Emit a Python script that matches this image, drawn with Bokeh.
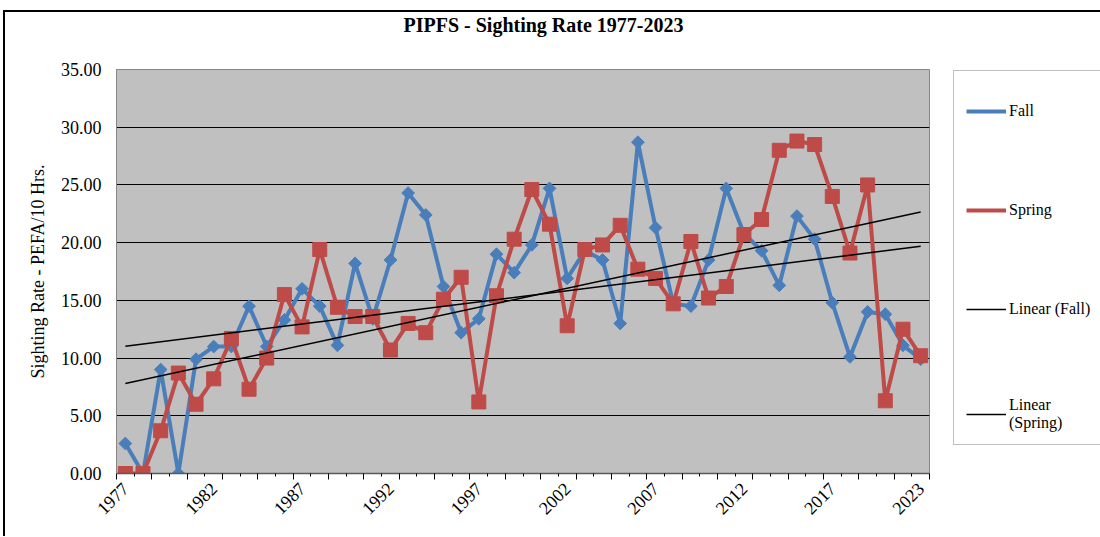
import numpy as np
from math import pi
from bokeh.plotting import figure
from bokeh.models import (Range1d, LinearAxis, FixedTicker, NumeralTickFormatter,
                          Legend, LegendItem, Title)
from bokeh.embed import file_html
from bokeh.resources import INLINE

# ---------------- data ----------------
years = [1977, 1978, 1979, 1980, 1981, 1982, 1983, 1984, 1985, 1986,
         1987, 1988, 1989, 1990, 1991, 1992, 1993, 1994, 1995, 1996,
         1997, 1998, 1999, 2000, 2001, 2002, 2003, 2004, 2005, 2006,
         2007, 2008, 2009, 2010, 2011, 2012, 2013, 2014, 2015, 2016,
         2017, 2018, 2019, 2021, 2022, 2023]

fall = [2.6, 0.0, 9.0, 0.0, 9.9, 11.0, 11.0, 14.5, 11.0, 13.3,
        16.0, 14.5, 11.1, 18.2, 13.4, 18.5, 24.3, 22.4, 16.2, 12.2,
        13.4, 19.0, 17.4, 19.8, 24.7, 16.9, 19.3, 18.5, 13.0, 28.7,
        21.3, 14.7, 14.5, 18.5, 24.7, 20.8, 19.3, 16.3, 22.3, 20.3,
        14.8, 10.1, 14.0, 13.8, 11.1, 9.9]

spring = [0.0, 0.0, 3.7, 8.7, 6.0, 8.2, 11.7, 7.3, 10.0, 15.5,
          12.7, 19.4, 14.4, 13.6, 13.6, 10.7, 13.0, 12.2, 15.1, 17.0,
          6.2, 15.4, 20.3, 24.6, 21.6, 12.8, 19.4, 19.8, 21.5, 17.7,
          16.9, 14.7, 20.1, 15.2, 16.2, 20.7, 22.0, 28.0, 28.8, 28.5,
          24.0, 19.1, 25.0, 6.3, 12.5, 10.2]

tick_years = [1977, 1982, 1987, 1992, 1997, 2002, 2007, 2012, 2017, 2023]
y_ticks = [0, 5, 10, 15, 20, 25, 30, 35]

# ---------------- derived ----------------
n = len(years)
idx = np.arange(n)
label_idx = [years.index(y) for y in tick_years]

fb = np.polyfit(idx, fall, 1)
sb = np.polyfit(idx, spring, 1)
trend_x = [0, n - 1]
trend_fall = [fb[1] + fb[0] * x for x in trend_x]
trend_spring = [sb[1] + sb[0] * x for x in trend_x]

BLUE = "#4A7EBB"
RED = "#BE4B48"
SERIF = "Liberation Serif"

p = figure(title=None, frame_width=813, frame_height=404,
           min_border_left=111, min_border_right=171,
           min_border_top=57, min_border_bottom=63,
           x_range=Range1d(-0.5, n - 0.5), y_range=Range1d(0, 35),
           x_axis_type=None, output_backend="svg", toolbar_location=None,
           background_fill_color="#C0C0C0", border_fill_color="white",
           outline_line_color="#868686", outline_line_width=1)
p.styles = {"border-left": "2px solid black", "border-top": "2px solid black",
            "margin-left": "3px", "margin-top": "10px"}

# invisible (white) spacer next to the frame, title above it
spacer = LinearAxis(ticker=FixedTicker(ticks=[17]),
                    major_label_overrides={17: " "},
                    major_tick_out=0, major_tick_in=0,
                    axis_line_color=None, major_tick_line_color=None,
                    minor_tick_line_color=None,
                    major_label_text_font_size="2px", major_label_text_color="white",
                    major_label_standoff=28)
p.add_layout(spacer, "above")

title = Title(text="PIPFS - Sighting Rate 1977-2023", text_font=SERIF,
              text_font_style="bold", text_font_size="20px", text_color="black",
              align="left", offset=287, standoff=0, vertical_align="middle")
p.add_layout(title, "above")

# y axis
ya = p.yaxis[0]
ya.ticker = FixedTicker(ticks=y_ticks)
ya.formatter = NumeralTickFormatter(format="0.00")
ya.major_label_text_font = SERIF
ya.major_label_text_font_size = "18px"
ya.major_label_text_color = "black"
ya.major_tick_out = 0
ya.major_tick_in = 0
ya.minor_tick_line_color = None
ya.major_label_standoff = 15
ya.axis_line_color = "#868686"
ya.axis_label = "Sighting Rate - PEFA/10 Hrs."
ya.axis_label_text_font = SERIF
ya.axis_label_text_font_style = "normal"
ya.axis_label_text_font_size = "18px"
ya.axis_label_text_color = "black"
ya.axis_label_standoff = 10

p.ygrid.ticker = FixedTicker(ticks=y_ticks[1:-1])
p.ygrid.grid_line_color = "black"
p.ygrid.grid_line_width = 1

# x axis: ticks at category boundaries, labels at category centres
bounds_major = [k - 0.5 for k in range(0, n + 1, 2)]
bounds_minor = [k - 0.5 for k in range(1, n + 1, 2)]
tick_axis = LinearAxis(ticker=FixedTicker(ticks=bounds_major, minor_ticks=bounds_minor),
                       major_tick_out=6, major_tick_in=0,
                       minor_tick_out=3, minor_tick_in=0,
                       major_tick_line_color="black", minor_tick_line_color="black",
                       axis_line_color="#595959", axis_line_width=1.5,
                       major_label_text_font_size="1px", major_label_text_alpha=0,
                       major_label_standoff=0)
p.add_layout(tick_axis, "below")

label_axis = LinearAxis(ticker=FixedTicker(ticks=label_idx),
                        major_label_overrides={i: str(y) for i, y in zip(label_idx, tick_years)},
                        major_tick_out=0, major_tick_in=0,
                        axis_line_color=None, major_tick_line_color=None,
                        minor_tick_line_color=None,
                        major_label_orientation=pi / 4,
                        major_label_standoff=6,
                        major_label_text_font=SERIF,
                        major_label_text_font_size="18px",
                        major_label_text_color="black")
p.add_layout(label_axis, "below")

# series
fall_line = p.line(idx, fall, line_color=BLUE, line_width=4, line_join="round")
p.scatter(idx, fall, marker="square", angle=pi / 4, size=9,
          fill_color=BLUE, line_color=BLUE)
spring_line = p.line(idx, spring, line_color=RED, line_width=4, line_join="round")
p.scatter(idx, spring, marker="square", size=14, fill_color=RED, line_color=RED)

tf = p.line(trend_x, trend_fall, line_color="black", line_width=1.5)
ts = p.line(trend_x, trend_spring, line_color="black", line_width=1.5)

# legend-only marker renderers
fall_leg = p.scatter([], [], marker="diamond", fill_color=BLUE, line_color=BLUE)
spring_leg = p.scatter([], [], marker="square", fill_color=RED, line_color=RED)

legend = Legend(items=[
    LegendItem(label="Fall", renderers=[fall_line, fall_leg]),
    LegendItem(label="Spring", renderers=[spring_line, spring_leg]),
    LegendItem(label="Linear (Fall)", renderers=[tf]),
    LegendItem(label="Linear\n(Spring)", renderers=[ts]),
], location=(24, 28), orientation="vertical",
    padding=12, spacing=75, glyph_width=40, glyph_height=24,
    label_standoff=3, label_text_font=SERIF, label_text_font_size="16px",
    label_text_color="black",
    title=" ", title_text_font_size="12px", title_standoff=2,
    border_line_color="#808080", border_line_width=1,
    background_fill_color="white", background_fill_alpha=1.0)
p.add_layout(legend, "right")

open("out.html", "w").write(file_html(p, INLINE))
